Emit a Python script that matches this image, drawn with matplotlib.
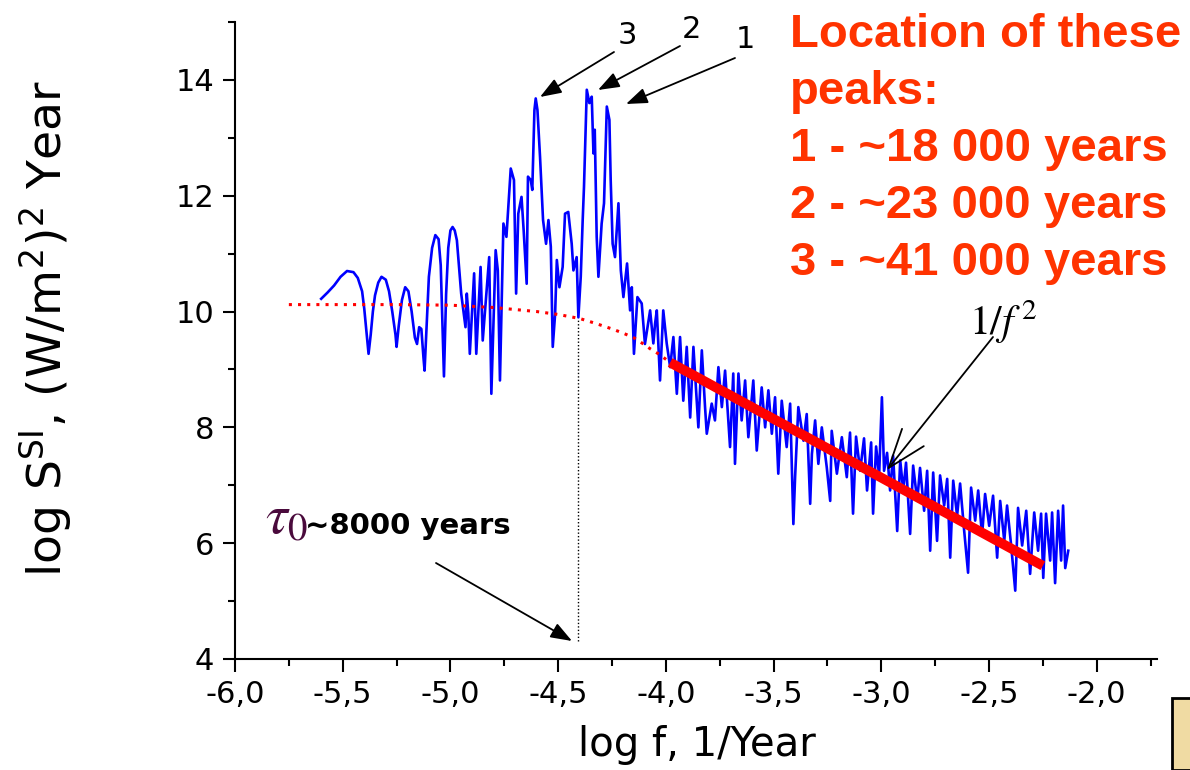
# plot.py - insolation power spectrum (log-log) with 1/f^2 fit

import matplotlib
matplotlib.use("Agg")
import matplotlib.pyplot as plt
from matplotlib.ticker import MultipleLocator, FuncFormatter
from matplotlib.patches import Rectangle

# ---- data ----
# blue spectrum: log f (1/year) and log S
log_f = [
    -5.60, -5.57, -5.54, -5.51, -5.48, -5.45, -5.43, -5.41, -5.40, -5.39,
    -5.38, -5.37, -5.36, -5.35, -5.335, -5.32, -5.30, -5.285, -5.27, -5.255,
    -5.25, -5.24, -5.225, -5.21, -5.195, -5.18, -5.165, -5.155, -5.145, -5.135,
    -5.125, -5.12, -5.11, -5.10, -5.085, -5.07, -5.055, -5.045, -5.035, -5.03,
    -5.02, -5.01, -5.00, -4.99, -4.98, -4.97, -4.95, -4.93, -4.924, -4.917,
    -4.91, -4.89, -4.88, -4.86, -4.85, -4.82, -4.81, -4.79, -4.78, -4.77,
    -4.754, -4.74, -4.72, -4.705, -4.695, -4.685, -4.67, -4.66, -4.646, -4.64,
    -4.627, -4.62, -4.61, -4.604, -4.596, -4.584, -4.57, -4.556, -4.545, -4.534,
    -4.525, -4.514, -4.506, -4.494, -4.479, -4.468, -4.453, -4.437, -4.429, -4.414,
    -4.406, -4.395, -4.386, -4.38, -4.367, -4.355, -4.344, -4.336, -4.33, -4.321,
    -4.313, -4.298, -4.287, -4.274, -4.262, -4.256, -4.247, -4.236, -4.22, -4.209,
    -4.197, -4.18, -4.166, -4.158, -4.148, -4.132, -4.112, -4.097, -4.073, -4.058,
    -4.05, -4.042, -4.027, -4.012, -3.996, -3.98, -3.965, -3.949, -3.934, -3.919,
    -3.903, -3.887, -3.872, -3.849, -3.833, -3.818, -3.81, -3.787, -3.772, -3.756,
    -3.74, -3.725, -3.702, -3.687, -3.679, -3.663, -3.648, -3.632, -3.617, -3.594,
    -3.578, -3.555, -3.539, -3.524, -3.508, -3.493, -3.478, -3.462, -3.439, -3.423,
    -3.408, -3.40, -3.385, -3.361, -3.346, -3.33, -3.322, -3.307, -3.292, -3.276,
    -3.253, -3.237, -3.23, -3.206, -3.183, -3.16, -3.145, -3.131, -3.117, -3.098,
    -3.080, -3.066, -3.047, -3.038, -3.024, -3.010, -2.997, -2.987, -2.973, -2.959,
    -2.945, -2.926, -2.912, -2.898, -2.885, -2.866, -2.852, -2.833, -2.820, -2.801,
    -2.787, -2.773, -2.759, -2.741, -2.727, -2.708, -2.694, -2.680, -2.666, -2.648,
    -2.634, -2.615, -2.597, -2.583, -2.564, -2.550, -2.532, -2.518, -2.499, -2.481,
    -2.462, -2.448, -2.429, -2.416, -2.397, -2.378, -2.365, -2.346, -2.327, -2.309,
    -2.290, -2.272, -2.258, -2.248, -2.235, -2.216, -2.207, -2.193, -2.179, -2.165,
    -2.156, -2.146, -2.132,
]
log_s = [
    10.22, 10.33, 10.45, 10.60, 10.70, 10.68, 10.58, 10.35, 10.05, 9.65,
    9.27, 9.60, 10.00, 10.28, 10.50, 10.60, 10.55, 10.35, 10.00, 9.60,
    9.39, 9.75, 10.20, 10.42, 10.35, 10.00, 9.55, 9.44, 9.73, 9.70,
    9.20, 8.98, 9.80, 10.60, 11.10, 11.32, 11.25, 10.80, 9.50, 8.88,
    10.30, 11.10, 11.40, 11.46, 11.40, 11.23, 10.31, 9.73, 10.31, 9.97,
    9.27, 10.66, 9.27, 10.77, 9.50, 10.94, 8.58, 11.06, 10.71, 8.81,
    11.52, 11.29, 12.47, 12.27, 10.31, 11.69, 11.98, 11.40, 10.48, 12.33,
    12.27, 12.10, 13.48, 13.68, 13.48, 12.67, 11.58, 11.17, 11.58, 11.12,
    9.39, 9.96, 10.89, 10.42, 10.77, 11.69, 11.72, 11.17, 10.71, 10.94,
    9.90, 10.60, 11.58, 12.15, 13.83, 13.60, 13.71, 12.73, 13.14, 11.29,
    10.60, 11.52, 11.87, 13.54, 13.31, 12.27, 11.17, 10.94, 11.87, 10.71,
    10.25, 10.83, 10.02, 10.42, 9.27, 10.25, 10.14, 9.44, 10.02, 9.45,
    9.79, 10.02, 8.81, 10.02, 9.45, 9.04, 9.56, 8.58, 9.56, 8.46,
    9.39, 8.17, 9.39, 8.00, 9.33, 8.35, 7.89, 8.41, 8.12, 9.04,
    8.35, 8.98, 7.66, 8.93, 7.37, 8.93, 8.12, 8.81, 7.83, 8.81,
    7.60, 8.69, 8.00, 8.64, 7.89, 8.52, 7.20, 8.46, 7.66, 8.41,
    6.33, 7.14, 8.35, 7.77, 8.23, 6.68, 7.54, 8.12, 7.37, 8.00,
    7.31, 6.73, 7.94, 7.20, 7.83, 7.14, 7.91, 6.51, 7.84, 7.25,
    7.81, 6.91, 7.74, 6.51, 7.67, 7.17, 8.52, 7.25, 7.56, 6.91,
    7.51, 6.21, 7.43, 6.91, 7.39, 6.16, 7.34, 6.73, 7.30, 6.56,
    7.25, 5.87, 7.22, 6.04, 7.17, 6.65, 7.11, 5.75, 7.08, 6.47,
    7.03, 6.21, 5.49, 6.96, 6.39, 6.91, 6.13, 6.85, 6.30, 6.82,
    5.75, 6.73, 6.04, 6.65, 5.96, 5.18, 6.61, 5.96, 6.56, 5.47,
    6.53, 5.87, 6.51, 5.40, 6.51, 5.70, 6.53, 5.31, 6.56, 5.70,
    6.65, 5.57, 5.87,
]

# red dotted model curve
model_f = [-5.75, -5.5, -5.25, -5.0, -4.8, -4.6, -4.5, -4.4, -4.33, -4.25,
           -4.2, -4.15, -4.1, -4.07, -4.03, -3.98]
model_s = [10.12, 10.12, 10.12, 10.11, 10.07, 10.0, 9.95, 9.88, 9.80, 9.70,
           9.63, 9.55, 9.43, 9.35, 9.26, 9.12]

# 1/f^2 fit line
fit_f = [-3.98, -2.25]
fit_s = [9.12, 5.61]

# tau_0 marker
tau_f = -4.41
tau_s = [4.31, 9.88]

peak_lines = ["Location of these", "peaks:", "1 - ~18 000 years",
              "2 - ~23 000 years", "3 - ~41 000 years"]

W, H = 1190, 770


def fpix(x, y):
    # figure fraction from picture pixels (top-left origin)
    return x / W, 1 - y / H


plt.rcParams["mathtext.fontset"] = "stix"
plt.rcParams["font.family"] = "DejaVu Sans"

fig = plt.figure(figsize=(W / 100, H / 100), dpi=100)
ax = fig.add_axes([235 / W, 1 - 659 / H, (1157 - 235) / W, (659 - 22) / H])

ax.plot(log_f, log_s, color="#0000ff", lw=1.9, zorder=2)
ax.plot(model_f, model_s, color="#ff0000", lw=2.2, ls=(0, (1, 2)), zorder=3)
ax.plot(fit_f, fit_s, color="#ff0000", lw=7, solid_capstyle="butt", zorder=4)
ax.plot([tau_f, tau_f], tau_s, color="black", lw=1, ls=(0, (1, 1.5)), zorder=1)

ax.set_xlim(-6, -1.72)
ax.set_ylim(4, 15)
ax.xaxis.set_major_locator(MultipleLocator(0.5))
ax.xaxis.set_minor_locator(MultipleLocator(0.25))
ax.yaxis.set_major_locator(MultipleLocator(2))
ax.yaxis.set_minor_locator(MultipleLocator(1))
ax.xaxis.set_major_formatter(FuncFormatter(lambda v, p: f"{v:.1f}".replace(".", ",")))
ax.yaxis.set_major_formatter(FuncFormatter(lambda v, p: f"{v:.0f}"))

for s in ["top", "right"]:
    ax.spines[s].set_visible(False)
for s in ["left", "bottom"]:
    ax.spines[s].set_linewidth(1.5)

ax.tick_params(which="major", direction="out", length=9, width=1.5,
               labelsize=22, pad=6)
ax.tick_params(which="minor", direction="out", length=5, width=1.5)

fig.text(*fpix(697, 745), "log f, 1/Year", fontsize=29, ha="center", va="center")
fig.text(*fpix(47, 328),
         r"log S$^{\mathregular{SI}}$, (W/m$^{\mathregular{2}}$)$^{\mathregular{2}}$ Year",
         fontsize=34, rotation=90, ha="center", va="center")

# peak arrows
arrow_fill = dict(arrowstyle="-|>,head_length=0.65,head_width=0.24",
                  color="black", lw=1.3, mutation_scale=20,
                  shrinkA=0, shrinkB=0)
for label, lab_xy, tail, tip in [
    ("3", (627, 35), (614, 52), (540, 97)),
    ("2", (691, 30), (680, 46), (598, 90)),
    ("1", (745, 40), (735, 58), (626, 104)),
]:
    fig.text(*fpix(*lab_xy), label, fontsize=22, ha="center", va="center")
    ax.annotate("", xy=(tip[0], H - tip[1]), xytext=(tail[0], H - tail[1]),
                xycoords="figure pixels", textcoords="figure pixels",
                arrowprops=arrow_fill)

# 1/f^2 label
fig.text(*fpix(1003, 322), r"$1/f^{\,2}$", fontsize=30, ha="center", va="center")
ax.annotate("", xy=(887, H - 470), xytext=(993, H - 337),
            xycoords="figure pixels", textcoords="figure pixels",
            arrowprops=dict(arrowstyle="->,head_length=1.4,head_width=0.5",
                            color="black", lw=1.3, mutation_scale=20,
                            shrinkA=0, shrinkB=0))

# tau_0 label
fig.text(*fpix(265, 533), r"$\tau_0$", fontsize=40, color="#4a0a3c",
         ha="left", va="baseline")
fig.text(*fpix(305, 534), "~8000 years", fontsize=21, fontweight="bold",
         ha="left", va="baseline")
ax.annotate("", xy=(572, H - 641), xytext=(436, H - 563),
            xycoords="figure pixels", textcoords="figure pixels",
            arrowprops=arrow_fill)

# red caption
for i, line in enumerate(peak_lines):
    fig.text(*fpix(790, 47 + 57 * i), line, fontsize=34, fontweight="bold",
             family="Liberation Sans", color="#ff3300",
             ha="left", va="baseline")

# slide fragment bottom right
fig.patches.append(Rectangle((1172 / W, 0), 30 / W, 72 / H,
                             transform=fig.transFigure, facecolor="#f0dba3",
                             edgecolor="black", lw=2))

fig.savefig("out.png", dpi=100)
